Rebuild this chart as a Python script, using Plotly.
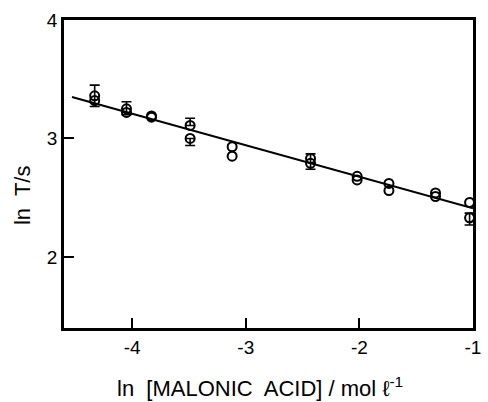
import plotly.graph_objects as go

# data
pt_x = [-4.33, -4.33, -4.05, -4.05, -3.83, -3.83, -3.49, -3.49, -3.12, -3.12,
        -2.43, -2.43, -2.02, -2.02, -1.74, -1.74, -1.33, -1.33, -1.03, -1.03]
pt_y = [3.36, 3.32, 3.25, 3.22, 3.19, 3.18, 3.11, 3.00, 2.93, 2.85,
        2.83, 2.79, 2.68, 2.65, 2.62, 2.56, 2.54, 2.51, 2.46, 2.33]

err_x = [-4.33, -4.05, -3.49, -3.49, -2.43, -1.03]
err_y = [3.34, 3.24, 3.11, 3.00, 2.81, 2.32]
err_plus = [0.11, 0.07, 0.06, 0.0, 0.06, 0.05]
err_minus = [0.07, 0.04, 0.0, 0.06, 0.07, 0.05]

fit_x = [-4.53, -1.0]
fit_y = [3.35, 2.41]

x_ticks = [-4, -3, -2, -1]
x_ticktext = ["-4", "-3", "-2", "-1"]
y_ticks = [2, 3, 4]
y_ticktext = ["2", "3", "4"]

x_title = "ln  [MALONIC  ACID] / mol ℓ<sup>-1</sup>"
y_title = "ln  T/s"

FONT = "Liberation Sans, Arial, sans-serif"

fig = go.Figure()
fig.add_trace(go.Scatter(x=fit_x, y=fit_y, mode="lines",
                         line=dict(color="black", width=2), showlegend=False))
fig.add_trace(go.Scatter(x=err_x, y=err_y, mode="markers",
                         marker=dict(size=1, color="rgba(0,0,0,0)"),
                         error_y=dict(type="data", symmetric=False, array=err_plus,
                                      arrayminus=err_minus, color="black",
                                      thickness=1.6, width=5),
                         showlegend=False))
fig.add_trace(go.Scatter(x=pt_x, y=pt_y, mode="markers",
                         marker=dict(symbol="circle-open", size=9, color="black",
                                     line=dict(width=2, color="black")),
                         showlegend=False))

fig.update_layout(
    width=488, height=402,
    margin=dict(l=64, r=7, t=20, b=74),
    paper_bgcolor="white", plot_bgcolor="white",
    font=dict(family=FONT, size=19, color="black"),
    xaxis=dict(range=[-4.6, -1.0], tickvals=x_ticks, ticktext=x_ticktext,
               ticks="inside", ticklen=10, tickwidth=1.5, tickcolor="black",
               showline=True, linewidth=2.5, linecolor="black", mirror=True,
               showgrid=False, zeroline=False),
    yaxis=dict(range=[1.4, 4.0], tickvals=y_ticks, ticktext=y_ticktext,
               ticks="inside", ticklen=10, tickwidth=1.5, tickcolor="black",
               showline=True, linewidth=2.5, linecolor="black", mirror=True,
               showgrid=False, zeroline=False),
    annotations=[
        dict(text=x_title, xref="paper", yref="paper", x=0.48, y=-0.192,
             xanchor="center", yanchor="middle", showarrow=False,
             font=dict(size=22)),
        dict(text=y_title, xref="paper", yref="paper", x=-0.10, y=0.432,
             xanchor="center", yanchor="middle", showarrow=False,
             textangle=-90, font=dict(size=22)),
    ],
)

fig.write_html("out.html")
